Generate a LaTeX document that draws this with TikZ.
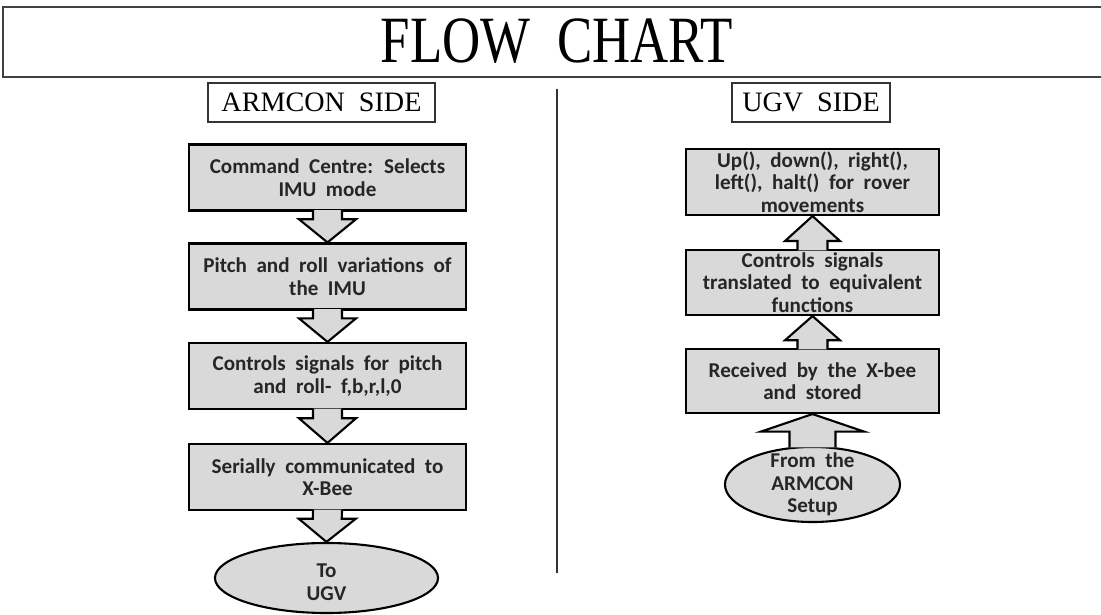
\documentclass[tikz,border=0pt]{standalone}
\usepackage{fontspec}
\setmainfont[WordSpace=2]{Carlito}
\newfontfamily\headfont{Liberation Serif}
\newfontfamily\titlefont[FakeStretch=0.8]{Liberation Serif}
\usetikzlibrary{calc}
\usetikzlibrary{shapes.geometric}

% block arrow: start, tip, stem half width, head half width, head part
\newcommand{\blockarrow}[5]{%
    \coordinate (st) at ($(#1)!-1pt!(#2)$);
    \coordinate (sh) at ($(#2)!#5!(#1)$);
    \draw[blockarr] ($(st)+(-#3,0)$) -- ($(sh)+(-#3,0)$) -- ($(sh)+(-#4,0)$) -- (#2) -- ($(sh)+(#4,0)$) -- ($(sh)+(#3,0)$) -- ($(st)+(#3,0)$);
}

\begin{document}
\begin{tikzpicture}[x=0.025cm,y=-0.025cm]
    \tikzset{procbox/.style={draw=black,fill=black!15,line width=1.5pt,rectangle,align=center,inner sep=1pt,text=black!85,font=\bfseries\fontsize{15}{16}\selectfont},
             termell/.style={draw=black,fill=black!15,line width=1.5pt,ellipse,inner sep=0pt},
             termtext/.style={align=center,text=black!85,font=\bfseries\fontsize{15}{16}\selectfont},
             sidebox/.style={draw=black!80,line width=1pt,minimum height=0.975cm,font=\headfont\fontsize{20}{20}\selectfont},
             blockarr/.style={draw=black,fill=black!15,line width=1.5pt,line join=miter}}
    \useasboundingbox (0,0) rectangle (1101,615);
    
    %title
    \draw[black!75,line width=1.6pt] (1101,7) -- (3,7) -- (3,77) -- (1101,77);
    \node (title) at (557,41) {\titlefont\fontsize{47}{47}\selectfont FLOW\ \ CHART};
    
    \coordinate (div_top) at (557,89);
    \coordinate (div_bot) at (557,573);
    \draw[line width=1.2pt,black!80] (div_top) -- (div_bot);
    
    \node[sidebox,minimum width=5.675cm] (armside) at (321.5,102.5) {ARMCON\ \ SIDE};
    \node[sidebox,minimum width=3.95cm] (ugvside) at (811,102.5) {UGV\ \ SIDE};
    
    %ARMCON side
    \node[procbox,minimum width=6.925cm,minimum height=1.65cm] (cmd) at (327.5,177.5) {Command Centre: Selects\\IMU mode};
    \node[procbox,minimum width=6.925cm,minimum height=1.65cm] (pitch) at (327.5,276.5) {Pitch and roll variations of\\the IMU};
    \node[procbox,minimum width=6.925cm,minimum height=1.65cm] (signals) at (327.5,376) {Controls signals for pitch\\and roll- f,b,r,l,0};
    \node[procbox,minimum width=6.925cm,minimum height=1.65cm] (serial) at (327.5,477) {Serially communicated to\\X-Bee};
    \node[termell,minimum width=5.575cm,minimum height=1.75cm,label={[termtext,yshift=-0.1cm]center:To\\UGV}] (toUGV) at (326.5,578) {};
    
    \blockarrow{cmd.south}{pitch.north}{14.5}{28.5}{0.75}
    \blockarrow{pitch.south}{signals.north}{14.5}{28.5}{0.75}
    \blockarrow{signals.south}{serial.north}{14.5}{28.5}{0.75}
    \blockarrow{serial.south}{toUGV.north}{14.5}{28.5}{0.75}
    
    %UGV side
    \node[procbox,minimum width=6.325cm,minimum height=1.65cm] (moves) at (812.5,182) {Up(), down(), right(),\\left(), halt() for rover\\movements};
    \node[procbox,minimum width=6.325cm,minimum height=1.625cm] (translate) at (812.5,282.5) {Controls signals\\translated to equivalent\\functions};
    \node[procbox,minimum width=6.325cm,minimum height=1.6cm] (recv) at (812.5,381) {Received by the X-bee\\and stored};
    \node[termell,minimum width=4.375cm,minimum height=1.875cm,label={[termtext]center:From the\\ARMCON\\Setup}] (fromArm) at (812.5,484.5) {};
    
    \blockarrow{translate.north}{moves.south}{15}{27.5}{0.76}
    \blockarrow{recv.north}{translate.south}{15}{27.5}{0.76}
    \blockarrow{fromArm.north}{recv.south}{23}{51.5}{0.55}
\end{tikzpicture}
\end{document}
